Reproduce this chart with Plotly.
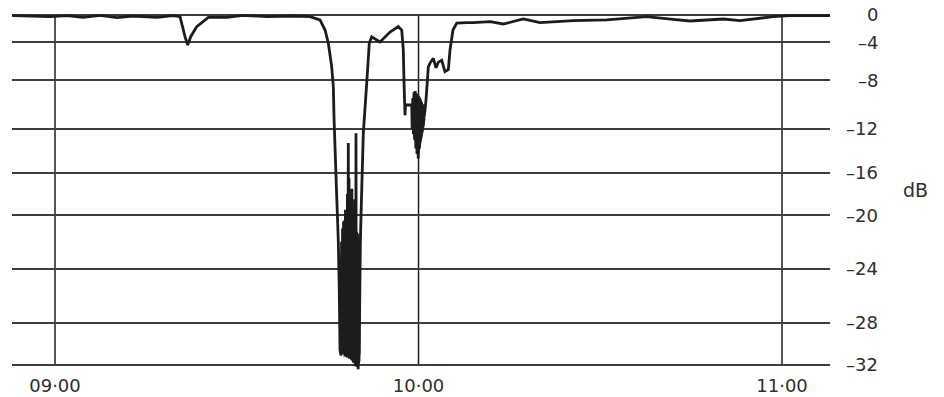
import numpy as np
import plotly.graph_objects as go

# ---- data: minutes after 09:00 and received signal level (dB) ----
minutes = [
    -7.10, -6.90, -0.83, 2.00, 4.62, 7.43, 10.23, 12.87, 16.84, 19.48, 20.63,
    21.46, 21.90, 22.40, 23.39, 25.30, 28.34, 31.03, 34.94, 39.28, 42.09,
    43.74, 44.57, 45.11, 45.67, 45.94, 46.05, 46.22, 46.46, 46.76, 46.92,
    47.04, 47.21,
    # deep fade (rapid scintillation)
    47.30, 47.38, 47.46, 47.54, 47.62, 47.70, 47.78, 47.86, 47.94, 48.02,
    48.10, 48.18, 48.26, 48.34, 48.41, 48.46, 48.52, 48.60, 48.68, 48.76,
    48.84, 48.92, 49.00, 49.08, 49.16, 49.24, 49.32, 49.40, 49.48, 49.56,
    49.64, 49.68, 49.72, 49.80, 49.88, 49.96, 50.04, 50.12, 50.20,
    # recovery
    50.40, 50.62, 50.89, 51.45, 51.88, 52.27, 53.10, 53.64, 55.30, 56.66,
    57.23, 57.49, 57.61, 57.77, 57.85, 58.88,
    # second fade around 10:00
    58.95, 59.05, 59.15, 59.25, 59.35, 59.45, 59.55, 59.65, 59.75, 59.85,
    59.95, 60.05, 60.15, 60.25, 60.35, 60.45, 60.55, 60.65, 60.75, 60.85,
    60.95,
    61.24, 61.62, 61.90, 62.44, 62.89, 63.27, 63.83, 64.37, 64.92, 65.20,
    65.69, 66.31, 67.96, 69.04, 71.80, 74.00, 77.30, 80.05, 85.55, 91.06,
    97.67, 102.01, 104.81, 110.31, 113.07, 118.51, 121.32, 127.92,
]
level_db = [
    -0.05, -0.10, -0.25, -0.10, -0.34, -0.05, -0.40, -0.15, -0.34, -0.10, -0.25,
    -3.18, -4.30, -3.18, -1.70, -0.34, -0.34, -0.05, -0.25, -0.15, -0.25,
    -0.73, -2.20, -4.07, -6.60, -8.57, -11.04, -13.70, -17.60, -21.90, -25.60,
    -30.60, -31.10,
    -22.0, -30.8, -21.0, -31.0, -20.5, -30.7, -20.8, -31.2, -19.5, -30.9,
    -20.3, -31.3, -18.0, -31.0, -13.3, -30.8, -16.5, -31.4, -20.6, -31.0,
    -21.0, -31.5, -17.5, -31.6, -21.2, -31.8, -20.0, -31.5, -18.5, -32.0,
    -32.0, -12.4, -31.5, -21.5, -32.2, -22.0, -32.4, -30.0, -31.0,
    -22.0, -17.7, -12.4, -8.25, -4.07, -3.20, -3.66, -3.95, -2.50, -1.70,
    -2.20, -4.80, -8.25, -10.90, -10.05, -10.05,
    -12.0, -9.5, -12.5, -9.0, -13.0, -8.9, -13.8, -9.2, -14.3, -9.5,
    -14.7, -9.8, -13.8, -9.6, -13.0, -9.8, -12.3, -10.0, -11.8, -10.2,
    -11.0,
    -9.60, -6.60, -6.20, -5.70, -6.70, -6.10, -5.90, -7.10, -6.90, -4.80,
    -2.20, -1.20, -1.13, -1.13, -0.98, -1.32, -0.59, -1.13, -0.83, -0.73,
    -0.25, -0.63, -0.88, -0.59, -0.83, -0.25, -0.10, -0.10,
]

# envelopes of the unresolved (solid) scintillation bands
band1_minutes = [47.54, 48.03, 48.20, 48.69, 48.86, 49.19, 49.52, 49.68, 50.01, 50.18, 50.34]
band1_upper_db = [-20.5, -20.2, -20.3, -20.5, -20.7, -21.0, -21.0, -21.1, -21.3, -21.5, -21.9]
band1_lower_db = [-30.8, -31.0, -31.1, -31.1, -31.2, -31.3, -31.6, -31.7, -32.1, -31.9, -31.6]
band2_minutes = [58.93, 59.42, 59.75, 59.92, 60.25, 60.74, 61.07]
band2_upper_db = [-9.6, -9.2, -9.1, -9.2, -9.4, -10.05, -10.9]
band2_lower_db = [-11.7, -13.0, -14.0, -14.6, -13.8, -12.3, -11.2]

# axis ticks
time_ticks = [0, 60, 120]
time_labels = ["09·00", "10·00", "11·00"]
db_ticks = [0, -4, -8, -12, -16, -20, -24, -28, -32]
db_labels = ["0", "–4", "–8", "–12", "–16", "–20", "–24", "–28", "–32"]

# chart-recorder paper ruling (non-uniform dB scale)
scale_db = [4, 0, -4, -8, -12, -16, -20, -24, -28, -32, -36]
scale_pos = [2.50, 0, -2.50, -5.95, -10.40, -14.43, -18.30, -23.18, -28.15, -32.0, -35.84]


def to_paper(v):
    return np.interp(-np.asarray(v, dtype=float), [-d for d in scale_db], scale_pos)


y_pos = to_paper(level_db)
tick_pos = to_paper(db_ticks)

ink = "#1c1c1c"
fig = go.Figure()
for bm, bu, bl in [(band1_minutes, band1_upper_db, band1_lower_db),
                   (band2_minutes, band2_upper_db, band2_lower_db)]:
    fig.add_trace(go.Scatter(
        x=list(bm) + list(bm)[::-1],
        y=list(to_paper(bu)) + list(to_paper(bl))[::-1],
        mode="lines", fill="toself", fillcolor="#2a2a2a",
        line=dict(color="#2a2a2a", width=1),
        hoverinfo="skip", showlegend=False,
    ))
fig.add_trace(go.Scatter(
    x=minutes, y=y_pos, mode="lines",
    line=dict(color=ink, width=2.8, simplify=False),
    hoverinfo="skip", showlegend=False,
))

font = "DejaVu Sans, Arial, sans-serif"
text_col = "#2e2e2e"

# vertical hour rulings
for t in time_ticks:
    fig.add_shape(type="line", xref="x", yref="y", x0=t, x1=t,
                  y0=tick_pos[0], y1=tick_pos[-1],
                  line=dict(color="#1e1e1e", width=1.5), layer="below")

# right-aligned dB labels
for p, lab in zip(tick_pos, db_labels):
    fig.add_annotation(x=1.0611, xref="paper", y=p, yref="y", text=lab,
                       showarrow=False, xanchor="right", yanchor="middle",
                       font=dict(family=font, size=18, color=text_col))
fig.add_annotation(x=1.104, xref="paper", y=0.5056, yref="paper", text="dB",
                   showarrow=False, xanchor="center", yanchor="middle",
                   font=dict(family=font, size=19, color=text_col))

fig.update_layout(
    width=944, height=397,
    margin=dict(l=12, r=114, t=13, b=27, autoexpand=False),
    paper_bgcolor="white", plot_bgcolor="white",
    xaxis=dict(range=[-7.10, 127.92], tickvals=time_ticks, ticktext=time_labels,
               showgrid=False, zeroline=False, showline=False, ticks="",
               ticklabelstandoff=3, automargin=False,
               tickfont=dict(family=font, size=18, color=text_col)),
    yaxis=dict(range=[-32.46, 0.18], tickvals=list(tick_pos), showticklabels=False,
               showgrid=True, gridcolor="#3f3f3a", gridwidth=1.5, automargin=False,
               zeroline=False, showline=False, ticks=""),
)

fig.write_html("out.html", config={"displayModeBar": False},
               post_script="document.body.style.margin='0';document.body.style.overflow='hidden';")
